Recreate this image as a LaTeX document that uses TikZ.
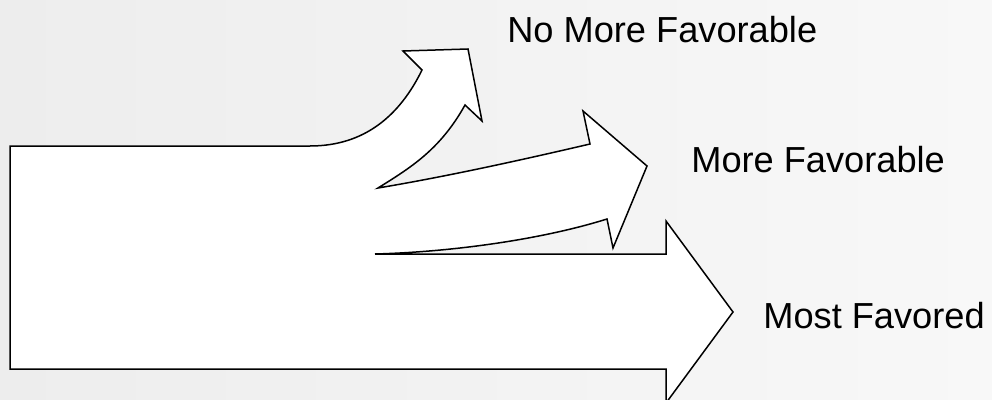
\documentclass[tikz,border=0pt]{standalone}
\usepackage{fontspec}
\setmainfont{Liberation Sans}
\definecolor{bgleft}{RGB}{237,237,237}
\definecolor{bgright}{RGB}{248,248,248}

\begin{document}
\begin{tikzpicture}[
  x=0.2mm, y=-0.2mm,
  choice/.style={font=\fontsize{20.6}{24}\selectfont, anchor=base west, inner sep=0pt},
  outline/.style={draw=black, fill=white, line width=0.3mm, line join=miter}
]
% background
\shade[left color=bgleft, right color=bgright] (0,0) rectangle (992,399);
\useasboundingbox (0,0) rectangle (992,399);

% one block splitting into three arrows
\draw[outline] (10,146) -- (310,146)
  .. controls (365,146) and (400,115) .. (422,70) -- (403,51) -- (468,49)
  -- (482,121) -- (465,105) .. controls (440,150) and (410,168) .. (378,188)
  .. controls (450,176) and (530,158) .. (590,144) -- (583,111) -- (647,166)
  -- (613,248) -- (607,219) .. controls (540,240) and (450,252) .. (375,254)
  -- (666,254) -- (666,221) -- (733,312) -- (666,403) -- (666,369)
  -- (10,369) -- cycle;

\node[choice] (nomore) at (507,43) {No More Favorable};
\node[choice] (more) at (691,172) {More Favorable};
\node[choice] (most) at (763,328) {Most Favored};
\end{tikzpicture}
\end{document}
